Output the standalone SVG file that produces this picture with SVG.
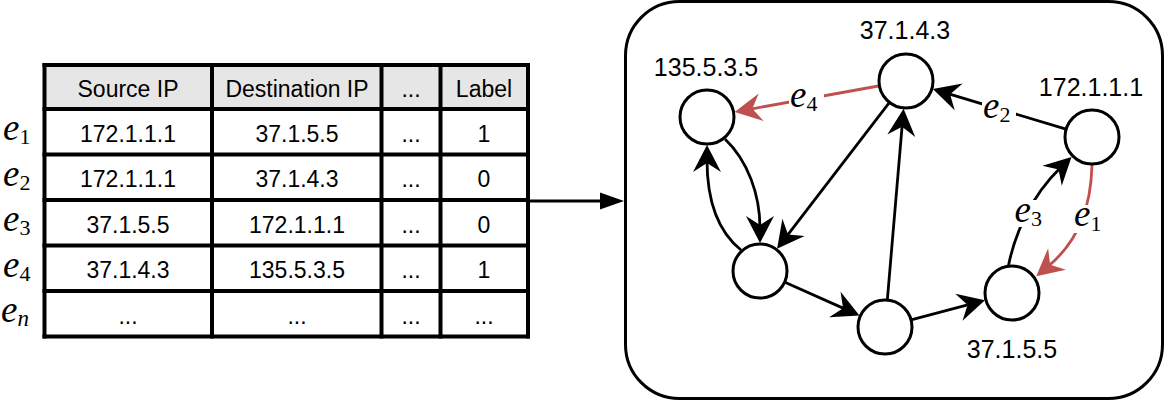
<svg xmlns="http://www.w3.org/2000/svg" width="1166" height="401" viewBox="0 0 1166 401">
<style>
.cell{font-family:"Liberation Sans",Arial,sans-serif;font-size:23px;text-anchor:middle;fill:#000}
.lbl{font-family:"Liberation Sans",Arial,sans-serif;font-size:25px;text-anchor:middle;fill:#000}
.m{font-family:"Liberation Serif","Times New Roman",serif;font-style:italic;font-size:37px;fill:#000}
.sub{font-style:normal;font-size:22px}
.subi{font-style:italic;font-size:23px}
.grid{stroke:#000;stroke-width:4;fill:none}
.node circle{fill:#fff;stroke:#000;stroke-width:3}
.edge{fill:none;stroke:#000;stroke-width:2.8}
.red{stroke:#c0504d}
.gap{fill:#fff}
</style>
<defs>
<marker id="ah" markerUnits="userSpaceOnUse" markerWidth="50" markerHeight="50" refX="0" refY="0" orient="auto" overflow="visible" viewBox="-25 -25 50 50">
<path d="M15,0 L-12,-14 L-3,0 L-12,14 Z" fill="#000"/>
</marker>
<marker id="ahr" markerUnits="userSpaceOnUse" markerWidth="50" markerHeight="50" refX="0" refY="0" orient="auto" overflow="visible" viewBox="-25 -25 50 50">
<path d="M15,0 L-12,-14 L-3,0 L-12,14 Z" fill="#c0504d"/>
</marker>
<marker id="ahl" markerUnits="userSpaceOnUse" markerWidth="40" markerHeight="40" refX="0" refY="0" orient="auto" overflow="visible" viewBox="-20 -20 40 40">
<path d="M20,0 L-4,-8.5 L-4,8.5 Z" fill="#000"/>
</marker>
</defs>

<g id="table">
<rect x="44.5" y="65" width="483.5" height="44" fill="#e6e6e6"/>
<rect x="44.5" y="109" width="483.5" height="227.5" fill="#fff"/>
<g class="grid">
<line x1="42.5" y1="65" x2="530" y2="65"/>
<line x1="42.5" y1="109" x2="530" y2="109"/>
<line x1="42.5" y1="154.5" x2="530" y2="154.5"/>
<line x1="42.5" y1="200" x2="530" y2="200"/>
<line x1="42.5" y1="245.5" x2="530" y2="245.5"/>
<line x1="42.5" y1="291" x2="530" y2="291"/>
<line x1="42.5" y1="336.5" x2="530" y2="336.5"/>
<line x1="44.5" y1="63" x2="44.5" y2="338.5"/>
<line x1="212" y1="63" x2="212" y2="338.5"/>
<line x1="381.5" y1="63" x2="381.5" y2="338.5"/>
<line x1="440.5" y1="63" x2="440.5" y2="338.5"/>
<line x1="528" y1="63" x2="528" y2="338.5"/>
</g>
<text class="cell" x="128" y="96.5">Source IP</text>
<text class="cell" x="297" y="96.5">Destination IP</text>
<text class="cell" x="411" y="96.5">...</text>
<text class="cell" x="484" y="96.5">Label</text>

<text class="cell" x="128" y="141.5">172.1.1.1</text>
<text class="cell" x="297" y="141.5">37.1.5.5</text>
<text class="cell" x="411" y="141.5">...</text>
<text class="cell" x="484" y="141.5">1</text>

<text class="cell" x="128" y="187">172.1.1.1</text>
<text class="cell" x="297" y="187">37.1.4.3</text>
<text class="cell" x="411" y="187">...</text>
<text class="cell" x="484" y="187">0</text>

<text class="cell" x="128" y="232.5">37.1.5.5</text>
<text class="cell" x="297" y="232.5">172.1.1.1</text>
<text class="cell" x="411" y="232.5">...</text>
<text class="cell" x="484" y="232.5">0</text>

<text class="cell" x="128" y="278">37.1.4.3</text>
<text class="cell" x="297" y="278">135.5.3.5</text>
<text class="cell" x="411" y="278">...</text>
<text class="cell" x="484" y="278">1</text>

<text class="cell" x="128" y="323.5">...</text>
<text class="cell" x="297" y="323.5">...</text>
<text class="cell" x="411" y="323.5">...</text>
<text class="cell" x="484" y="323.5">...</text>
</g>

<g id="row-labels">
<text class="m" x="3" y="140">e<tspan class="sub" dy="4">1</tspan></text>
<text class="m" x="3" y="185.5">e<tspan class="sub" dy="4">2</tspan></text>
<text class="m" x="3" y="231">e<tspan class="sub" dy="4">3</tspan></text>
<text class="m" x="3" y="276.5">e<tspan class="sub" dy="4">4</tspan></text>
<text class="m" x="1" y="322">e<tspan class="subi" dy="4">n</tspan></text>
</g>

<g id="graph-box">
<rect x="625.5" y="1.5" width="537" height="397" rx="54" ry="54" fill="none" stroke="#000" stroke-width="3"/>
</g>

<g id="connectors">
<line class="edge" x1="528" y1="201" x2="604" y2="201" stroke-width="3.5" marker-end="url(#ahl)"/>
<!-- A -> D -->
<path class="edge" d="M725,139 C748,161 760,195 760,228" marker-end="url(#ah)"/>
<!-- D -> A -->
<path class="edge" d="M741,250 C716,230 707,198 707,160" marker-end="url(#ah)"/>
<!-- B -> D -->
<path class="edge" d="M888.9,103.2 L786.2,236.9" marker-end="url(#ah)"/>
<!-- E -> B -->
<path class="edge" d="M887.4,299.1 L902.3,123.8" marker-end="url(#ah)"/>
<!-- D -> E -->
<path class="edge" d="M785.5,282.5 L845.8,309.4" marker-end="url(#ah)"/>
<!-- E -> F -->
<path class="edge" d="M912,319.7 L970.5,304.2" marker-end="url(#ah)"/>
<!-- C -> B (e2) -->
<path class="edge" d="M1065.2,128.9 L947.2,93.4" marker-end="url(#ah)"/>
<!-- B -> A (e4, red) -->
<path class="edge red" d="M878.4,86 L749.4,109.3" marker-end="url(#ahr)"/>
<!-- F -> C (e3) -->
<path class="edge" d="M1008.5,265.5 C1014.5,235.5 1030,197 1060.7,167.4" marker-end="url(#ah)"/>
<!-- C -> F (e1, red) -->
<path class="edge red" d="M1092,165 C1091,205 1080,240 1047.8,266.6" marker-end="url(#ahr)"/>
</g>

<g id="edge-labels">
<rect class="gap" x="789" y="88" width="35" height="26"/>
<text class="m" x="790" y="106.5">e<tspan class="sub" dy="4.5">4</tspan></text>
<rect class="gap" x="982" y="99" width="34" height="26"/>
<text class="m" x="983" y="117.5">e<tspan class="sub" dy="4.5">2</tspan></text>
<rect class="gap" x="1013" y="200" width="35" height="27"/>
<text class="m" x="1014.5" y="221.5">e<tspan class="sub" dy="4.5">3</tspan></text>
<rect class="gap" x="1073" y="205" width="34" height="28"/>
<text class="m" x="1074" y="226">e<tspan class="sub" dy="4.5">1</tspan></text>
</g>

<g id="node-135-5-3-5" class="node">
<circle cx="707" cy="117" r="27"/>
<text class="lbl" x="706" y="76">135.5.3.5</text>
</g>
<g id="node-37-1-4-3" class="node">
<circle cx="906" cy="81" r="27"/>
<text class="lbl" x="905" y="39">37.1.4.3</text>
</g>
<g id="node-172-1-1-1" class="node">
<circle cx="1092" cy="137" r="27"/>
<text class="lbl" x="1091" y="96">172.1.1.1</text>
</g>
<g id="node-left" class="node">
<circle cx="760" cy="271" r="27"/>
</g>
<g id="node-bottom" class="node">
<circle cx="885" cy="327" r="27"/>
</g>
<g id="node-37-1-5-5" class="node">
<circle cx="1012" cy="293" r="27"/>
<text class="lbl" x="1012" y="358">37.1.5.5</text>
</g>
</svg>
